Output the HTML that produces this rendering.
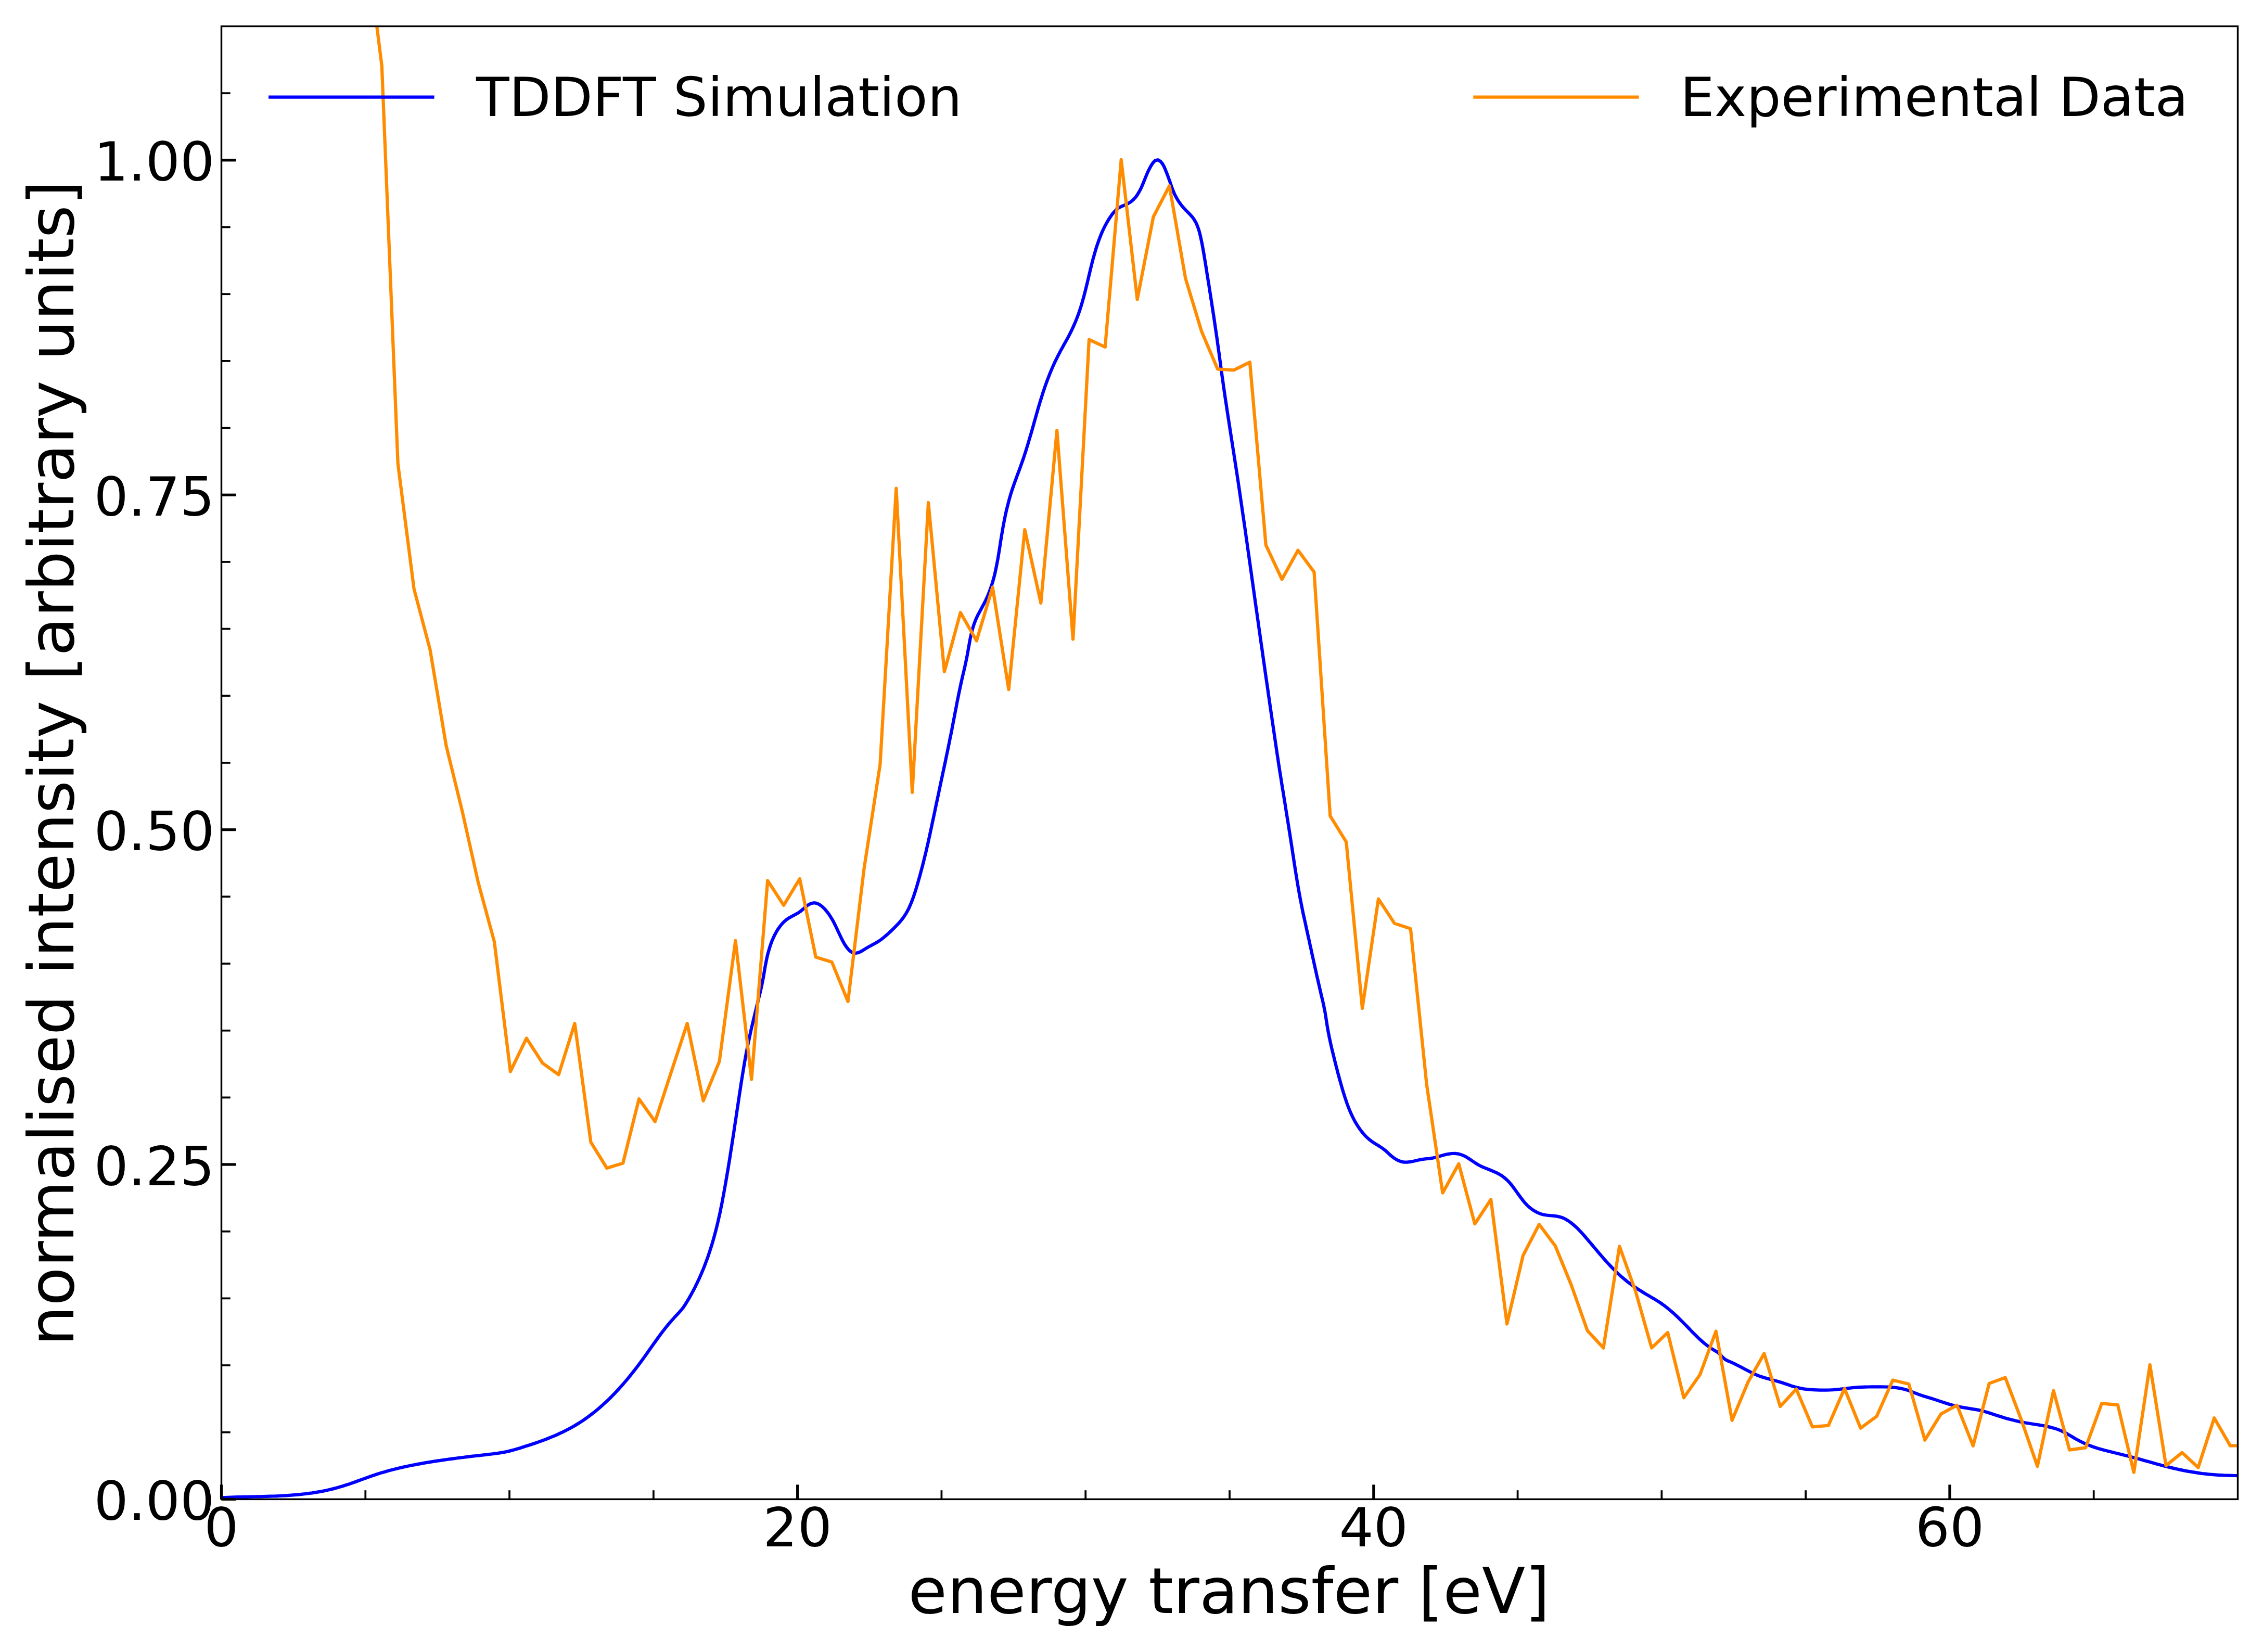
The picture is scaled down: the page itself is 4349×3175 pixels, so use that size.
<!DOCTYPE html>
<html lang="en"><head><meta charset="utf-8"><title>TDDFT Simulation vs Experimental Data</title>
<style>
html,body{margin:0;padding:0;background:#fff;}
body{width:4349px;height:3175px;overflow:hidden;}
svg{display:block;}
text{font-family:"DejaVu Sans","Liberation Sans",sans-serif;fill:#000;}
.tk{font-size:104.17px;}
.lb{font-size:121.5px;}
.lg{font-size:104.17px;}
</style></head><body>
<svg width="4349" height="3175" viewBox="0 0 4349 3175">
<rect x="0" y="0" width="4349" height="3175" fill="#ffffff"/>
<defs><clipPath id="ax"><rect x="425.5" y="50.5" width="3875.0" height="2830.9"/></clipPath></defs>
<g id="curves">
<path d="M425.5 2878.4 L431.6 2878.1 L437.8 2877.8 L444.0 2877.6 L450.2 2877.4 L456.4 2877.2 L462.6 2877.1 L468.8 2876.9 L475.0 2876.8 L481.3 2876.7 L487.5 2876.5 L493.8 2876.4 L500.0 2876.3 L506.3 2876.1 L512.6 2875.9 L518.8 2875.7 L525.1 2875.5 L531.3 2875.3 L537.6 2875.0 L543.8 2874.7 L550.1 2874.3 L556.3 2873.9 L562.5 2873.4 L568.7 2872.9 L574.9 2872.3 L581.1 2871.7 L587.2 2871.0 L593.4 2870.2 L599.5 2869.4 L605.6 2868.4 L611.7 2867.4 L617.8 2866.3 L623.9 2865.1 L629.9 2863.8 L636.0 2862.4 L642.0 2860.9 L648.0 2859.3 L654.0 2857.6 L660.0 2855.7 L666.0 2853.8 L672.0 2851.9 L677.9 2849.8 L683.8 2847.7 L689.7 2845.5 L695.7 2843.4 L701.6 2841.2 L707.5 2839.1 L713.4 2837.0 L719.3 2835.0 L725.2 2833.0 L731.1 2831.1 L737.0 2829.4 L742.9 2827.7 L748.9 2826.0 L754.9 2824.5 L760.8 2823.0 L766.8 2821.5 L772.9 2820.1 L778.9 2818.8 L785.0 2817.5 L791.1 2816.3 L797.2 2815.1 L803.3 2813.9 L809.5 2812.8 L815.7 2811.7 L821.8 2810.6 L828.0 2809.6 L834.2 2808.7 L840.4 2807.7 L846.6 2806.8 L852.8 2805.9 L859.0 2805.0 L865.2 2804.2 L871.4 2803.3 L877.6 2802.5 L883.8 2801.7 L890.0 2801.0 L896.2 2800.2 L902.3 2799.4 L908.5 2798.7 L914.6 2798.0 L920.7 2797.3 L926.8 2796.6 L932.9 2795.9 L939.0 2795.2 L945.1 2794.5 L951.2 2793.7 L957.3 2792.9 L963.3 2791.9 L969.4 2790.8 L975.5 2789.6 L981.5 2788.1 L987.5 2786.5 L993.6 2784.7 L999.6 2782.9 L1005.6 2781.0 L1011.7 2779.1 L1017.7 2777.2 L1023.6 2775.2 L1029.6 2773.2 L1035.5 2771.1 L1041.5 2769.0 L1047.3 2766.8 L1053.2 2764.5 L1059.0 2762.2 L1064.8 2759.8 L1070.5 2757.3 L1076.2 2754.7 L1081.8 2752.1 L1087.4 2749.3 L1092.9 2746.5 L1098.3 2743.5 L1103.7 2740.5 L1109.0 2737.3 L1114.3 2734.0 L1119.5 2730.6 L1124.6 2727.1 L1129.6 2723.5 L1134.6 2719.8 L1139.5 2716.0 L1144.4 2712.2 L1149.2 2708.2 L1153.9 2704.1 L1158.5 2700.0 L1163.1 2695.8 L1167.7 2691.5 L1172.2 2687.2 L1176.6 2682.7 L1181.0 2678.2 L1185.3 2673.7 L1189.5 2669.1 L1193.7 2664.4 L1197.8 2659.7 L1201.9 2655.0 L1206.0 2650.2 L1210.0 2645.3 L1213.9 2640.4 L1217.8 2635.5 L1221.6 2630.6 L1225.4 2625.6 L1229.2 2620.6 L1232.9 2615.6 L1236.6 2610.5 L1240.2 2605.5 L1243.8 2600.4 L1247.4 2595.3 L1250.9 2590.3 L1254.5 2585.2 L1258.1 2580.2 L1261.7 2575.1 L1265.3 2570.1 L1269.0 2565.2 L1272.7 2560.2 L1276.5 2555.3 L1280.3 2550.4 L1284.3 2545.6 L1288.3 2540.9 L1292.4 2536.2 L1296.6 2531.5 L1300.9 2526.9 L1305.2 2522.3 L1309.3 2517.6 L1313.2 2512.7 L1316.7 2507.5 L1320.0 2502.2 L1323.2 2496.8 L1326.3 2491.4 L1329.3 2486.0 L1332.3 2480.5 L1335.2 2475.0 L1337.9 2469.4 L1340.6 2463.8 L1343.3 2458.2 L1345.8 2452.5 L1348.3 2446.8 L1350.7 2441.1 L1353.0 2435.3 L1355.3 2429.5 L1357.4 2423.7 L1359.6 2417.9 L1361.6 2412.0 L1363.6 2406.1 L1365.5 2400.2 L1367.4 2394.3 L1369.2 2388.3 L1370.9 2382.3 L1372.6 2376.3 L1374.2 2370.3 L1375.8 2364.3 L1377.3 2358.2 L1378.8 2352.2 L1380.2 2346.1 L1381.6 2340.0 L1383.0 2333.9 L1384.3 2327.8 L1385.5 2321.7 L1386.8 2315.5 L1388.0 2309.4 L1389.1 2303.3 L1390.3 2297.1 L1391.4 2291.0 L1392.5 2284.8 L1393.6 2278.7 L1394.7 2272.5 L1395.7 2266.4 L1396.8 2260.2 L1397.8 2254.1 L1398.9 2247.9 L1399.9 2241.8 L1400.9 2235.6 L1401.9 2229.4 L1402.9 2223.3 L1403.8 2217.1 L1404.8 2211.0 L1405.8 2204.8 L1406.7 2198.7 L1407.7 2192.5 L1408.6 2186.4 L1409.6 2180.2 L1410.5 2174.1 L1411.4 2167.9 L1412.3 2161.8 L1413.3 2155.6 L1414.2 2149.5 L1415.1 2143.4 L1416.0 2137.2 L1416.9 2131.1 L1417.9 2124.9 L1418.8 2118.8 L1419.7 2112.6 L1420.6 2106.5 L1421.5 2100.4 L1422.5 2094.2 L1423.4 2088.1 L1424.3 2082.0 L1425.3 2075.8 L1426.3 2069.7 L1427.3 2063.6 L1428.3 2057.4 L1429.3 2051.3 L1430.3 2045.2 L1431.4 2039.0 L1432.5 2032.9 L1433.6 2026.8 L1434.8 2020.7 L1436.0 2014.5 L1437.2 2008.4 L1438.5 2002.3 L1439.8 1996.2 L1441.1 1990.1 L1442.4 1984.0 L1443.8 1977.8 L1445.2 1971.7 L1446.7 1965.6 L1448.1 1959.5 L1449.6 1953.4 L1451.0 1947.3 L1452.5 1941.2 L1454.0 1935.1 L1455.5 1929.0 L1457.0 1922.9 L1458.5 1916.8 L1460.0 1910.7 L1461.5 1904.6 L1462.9 1898.6 L1464.2 1892.5 L1465.4 1886.4 L1466.6 1880.3 L1467.7 1874.2 L1468.7 1868.2 L1469.7 1862.1 L1470.8 1856.0 L1472.0 1849.9 L1473.2 1843.9 L1474.5 1837.8 L1476.0 1831.8 L1477.7 1825.8 L1479.5 1819.8 L1481.5 1813.9 L1483.7 1808.1 L1486.2 1802.4 L1488.9 1796.7 L1491.9 1791.2 L1495.1 1785.9 L1498.7 1780.7 L1502.6 1775.9 L1506.9 1771.4 L1511.6 1767.4 L1516.7 1763.9 L1522.1 1760.9 L1527.7 1758.0 L1533.1 1755.0 L1538.3 1751.5 L1543.0 1747.5 L1547.7 1743.3 L1552.7 1739.4 L1558.3 1736.4 L1564.3 1735.2 L1570.3 1736.2 L1575.7 1739.0 L1580.7 1742.9 L1585.2 1747.4 L1589.3 1752.2 L1593.0 1757.1 L1596.4 1762.3 L1599.6 1767.6 L1602.6 1773.1 L1605.4 1778.7 L1608.1 1784.3 L1610.7 1790.0 L1613.4 1795.6 L1616.0 1801.2 L1618.8 1806.8 L1621.7 1812.3 L1625.0 1817.6 L1628.7 1822.7 L1633.0 1827.4 L1638.1 1830.9 L1643.9 1832.0 L1650.0 1830.9 L1655.8 1828.0 L1661.3 1824.6 L1666.5 1821.4 L1671.8 1818.4 L1677.2 1815.5 L1682.7 1812.5 L1688.2 1809.3 L1693.3 1805.7 L1698.2 1801.9 L1702.9 1797.9 L1707.5 1793.8 L1712.0 1789.6 L1716.6 1785.2 L1721.0 1780.8 L1725.4 1776.3 L1729.6 1771.6 L1733.5 1766.8 L1737.2 1761.8 L1740.6 1756.6 L1743.7 1751.2 L1746.6 1745.8 L1749.1 1740.1 L1751.5 1734.4 L1753.7 1728.6 L1755.8 1722.7 L1757.8 1716.8 L1759.7 1710.8 L1761.5 1704.8 L1763.3 1698.8 L1765.0 1692.8 L1766.7 1686.8 L1768.4 1680.8 L1770.0 1674.8 L1771.6 1668.7 L1773.2 1662.7 L1774.7 1656.7 L1776.2 1650.6 L1777.7 1644.5 L1779.2 1638.5 L1780.6 1632.4 L1782.0 1626.3 L1783.4 1620.3 L1784.7 1614.2 L1786.1 1608.1 L1787.4 1602.0 L1788.7 1595.9 L1790.0 1589.8 L1791.3 1583.7 L1792.6 1577.6 L1793.9 1571.5 L1795.2 1565.4 L1796.5 1559.3 L1797.7 1553.2 L1799.0 1547.1 L1800.3 1541.0 L1801.6 1535.0 L1802.9 1528.9 L1804.2 1522.8 L1805.4 1516.7 L1806.7 1510.6 L1808.0 1504.5 L1809.3 1498.4 L1810.6 1492.3 L1811.9 1486.2 L1813.2 1480.1 L1814.5 1474.0 L1815.8 1468.0 L1817.1 1461.9 L1818.3 1455.8 L1819.6 1449.7 L1820.9 1443.6 L1822.1 1437.5 L1823.4 1431.4 L1824.6 1425.3 L1825.8 1419.2 L1827.1 1413.1 L1828.3 1407.1 L1829.5 1401.0 L1830.6 1394.9 L1831.8 1388.8 L1833.0 1382.7 L1834.2 1376.6 L1835.3 1370.5 L1836.5 1364.4 L1837.7 1358.3 L1838.8 1352.2 L1840.0 1346.1 L1841.3 1340.0 L1842.5 1333.8 L1843.8 1327.7 L1845.1 1321.6 L1846.4 1315.5 L1847.7 1309.4 L1849.1 1303.3 L1850.5 1297.1 L1852.0 1291.0 L1853.4 1284.9 L1854.8 1278.7 L1856.1 1272.6 L1857.4 1266.5 L1858.6 1260.3 L1859.7 1254.2 L1860.8 1248.0 L1861.9 1241.9 L1863.0 1235.8 L1864.1 1229.7 L1865.3 1223.7 L1866.7 1217.7 L1868.2 1211.7 L1869.9 1205.8 L1871.8 1199.9 L1873.9 1194.1 L1876.3 1188.3 L1879.0 1182.6 L1882.0 1177.0 L1885.0 1171.4 L1888.0 1165.8 L1891.0 1160.3 L1893.8 1154.7 L1896.4 1149.1 L1898.9 1143.4 L1901.2 1137.7 L1903.3 1131.9 L1905.3 1126.0 L1907.2 1120.1 L1908.9 1114.2 L1910.5 1108.2 L1912.0 1102.2 L1913.3 1096.1 L1914.6 1090.0 L1915.8 1083.9 L1917.0 1077.7 L1918.1 1071.5 L1919.1 1065.4 L1920.1 1059.2 L1921.1 1053.0 L1922.1 1046.8 L1923.0 1040.6 L1924.0 1034.4 L1925.0 1028.2 L1926.1 1022.1 L1927.1 1015.9 L1928.2 1009.8 L1929.4 1003.7 L1930.6 997.6 L1931.8 991.5 L1933.1 985.5 L1934.5 979.4 L1936.0 973.4 L1937.5 967.4 L1939.1 961.4 L1940.8 955.4 L1942.5 949.5 L1944.4 943.5 L1946.4 937.6 L1948.4 931.7 L1950.5 925.8 L1952.7 919.9 L1954.8 914.0 L1957.0 908.1 L1959.2 902.3 L1961.3 896.4 L1963.4 890.5 L1965.5 884.6 L1967.5 878.8 L1969.4 872.9 L1971.3 867.0 L1973.1 861.1 L1975.0 855.1 L1976.7 849.2 L1978.5 843.2 L1980.2 837.3 L1982.0 831.3 L1983.7 825.3 L1985.4 819.3 L1987.1 813.2 L1988.8 807.2 L1990.5 801.2 L1992.2 795.2 L1993.9 789.2 L1995.6 783.2 L1997.4 777.2 L1999.2 771.2 L2001.1 765.2 L2002.9 759.3 L2004.8 753.3 L2006.8 747.4 L2008.8 741.5 L2010.9 735.7 L2013.0 729.9 L2015.3 724.1 L2017.5 718.3 L2019.9 712.6 L2022.3 706.9 L2024.8 701.3 L2027.4 695.6 L2030.1 690.1 L2032.9 684.5 L2035.8 678.9 L2038.7 673.4 L2041.7 667.9 L2044.8 662.3 L2047.9 656.8 L2051.0 651.3 L2054.0 645.7 L2056.8 640.1 L2059.6 634.5 L2062.2 628.9 L2064.7 623.3 L2067.1 617.6 L2069.4 611.9 L2071.6 606.1 L2073.7 600.3 L2075.6 594.5 L2077.5 588.6 L2079.3 582.6 L2081.0 576.7 L2082.7 570.7 L2084.2 564.7 L2085.8 558.6 L2087.3 552.5 L2088.8 546.5 L2090.2 540.4 L2091.7 534.3 L2093.1 528.2 L2094.6 522.1 L2096.0 516.0 L2097.5 509.9 L2099.1 503.8 L2100.6 497.8 L2102.3 491.8 L2104.0 485.8 L2105.7 479.8 L2107.6 473.8 L2109.6 467.9 L2111.6 462.1 L2113.8 456.3 L2116.1 450.5 L2118.5 444.8 L2121.1 439.2 L2123.9 433.6 L2126.9 428.2 L2130.1 422.8 L2133.5 417.5 L2137.1 412.3 L2141.1 407.3 L2145.4 402.8 L2150.3 399.2 L2155.7 396.5 L2161.4 394.2 L2167.1 391.6 L2172.5 388.3 L2177.4 384.3 L2181.7 379.8 L2185.4 374.8 L2188.7 369.5 L2191.7 364.0 L2194.4 358.3 L2196.8 352.5 L2199.1 346.8 L2201.4 341.1 L2203.7 335.5 L2206.2 329.8 L2209.0 324.2 L2212.1 318.5 L2215.7 313.0 L2220.1 308.4 L2225.3 307.2 L2230.3 310.2 L2234.2 315.0 L2237.3 320.7 L2239.9 326.8 L2242.2 332.6 L2244.4 338.3 L2246.4 343.9 L2248.5 349.8 L2250.5 355.7 L2252.6 361.7 L2254.9 367.6 L2257.4 373.4 L2260.2 378.9 L2263.3 384.3 L2266.7 389.4 L2270.4 394.4 L2274.3 399.1 L2278.6 403.7 L2283.0 408.1 L2287.4 412.6 L2291.6 417.3 L2295.1 422.3 L2298.2 427.6 L2300.7 433.2 L2302.9 439.0 L2304.7 444.9 L2306.3 451.0 L2307.7 457.2 L2309.0 463.4 L2310.3 469.5 L2311.4 475.7 L2312.5 481.9 L2313.6 488.0 L2314.6 494.2 L2315.6 500.3 L2316.6 506.5 L2317.6 512.6 L2318.6 518.8 L2319.5 524.9 L2320.5 531.1 L2321.5 537.2 L2322.5 543.4 L2323.5 549.5 L2324.4 555.7 L2325.4 561.9 L2326.4 568.0 L2327.3 574.2 L2328.3 580.3 L2329.2 586.5 L2330.2 592.6 L2331.1 598.8 L2332.1 604.9 L2333.0 611.1 L2333.9 617.3 L2334.8 623.4 L2335.7 629.6 L2336.6 635.7 L2337.5 641.9 L2338.4 648.0 L2339.3 654.2 L2340.1 660.4 L2341.0 666.5 L2341.8 672.7 L2342.7 678.8 L2343.5 685.0 L2344.3 691.2 L2345.2 697.3 L2346.0 703.5 L2346.9 709.7 L2347.7 715.8 L2348.5 722.0 L2349.4 728.1 L2350.3 734.3 L2351.1 740.5 L2352.0 746.6 L2352.9 752.8 L2353.8 759.0 L2354.7 765.1 L2355.6 771.3 L2356.6 777.5 L2357.5 783.6 L2358.4 789.8 L2359.4 796.0 L2360.3 802.1 L2361.3 808.3 L2362.2 814.5 L2363.2 820.6 L2364.1 826.8 L2365.1 833.0 L2366.0 839.1 L2367.0 845.3 L2368.0 851.5 L2368.9 857.6 L2369.9 863.8 L2370.9 870.0 L2371.8 876.1 L2372.8 882.3 L2373.7 888.5 L2374.7 894.6 L2375.6 900.8 L2376.6 907.0 L2377.5 913.1 L2378.4 919.3 L2379.4 925.5 L2380.3 931.7 L2381.2 937.8 L2382.1 944.0 L2383.0 950.2 L2383.9 956.3 L2384.8 962.5 L2385.7 968.7 L2386.6 974.8 L2387.5 981.0 L2388.4 987.2 L2389.3 993.4 L2390.2 999.5 L2391.1 1005.7 L2392.0 1011.9 L2392.9 1018.0 L2393.8 1024.2 L2394.6 1030.4 L2395.5 1036.6 L2396.4 1042.7 L2397.3 1048.9 L2398.1 1055.1 L2399.0 1061.2 L2399.9 1067.4 L2400.7 1073.6 L2401.6 1079.7 L2402.5 1085.9 L2403.3 1092.1 L2404.2 1098.3 L2405.1 1104.4 L2405.9 1110.6 L2406.8 1116.8 L2407.7 1122.9 L2408.5 1129.1 L2409.4 1135.3 L2410.3 1141.5 L2411.1 1147.6 L2412.0 1153.8 L2412.8 1160.0 L2413.7 1166.1 L2414.6 1172.3 L2415.5 1178.5 L2416.3 1184.6 L2417.2 1190.8 L2418.1 1197.0 L2418.9 1203.2 L2419.8 1209.3 L2420.7 1215.5 L2421.6 1221.7 L2422.4 1227.8 L2423.3 1234.0 L2424.2 1240.2 L2425.1 1246.3 L2426.0 1252.5 L2426.8 1258.7 L2427.7 1264.8 L2428.6 1271.0 L2429.5 1277.2 L2430.4 1283.3 L2431.2 1289.5 L2432.1 1295.7 L2433.0 1301.8 L2433.9 1308.0 L2434.8 1314.2 L2435.7 1320.3 L2436.6 1326.5 L2437.4 1332.7 L2438.3 1338.8 L2439.2 1345.0 L2440.1 1351.2 L2441.0 1357.3 L2441.9 1363.5 L2442.8 1369.7 L2443.7 1375.8 L2444.6 1382.0 L2445.5 1388.1 L2446.4 1394.3 L2447.3 1400.5 L2448.2 1406.6 L2449.1 1412.8 L2450.0 1419.0 L2450.9 1425.1 L2451.8 1431.3 L2452.7 1437.4 L2453.6 1443.6 L2454.5 1449.8 L2455.5 1455.9 L2456.4 1462.1 L2457.3 1468.2 L2458.3 1474.4 L2459.2 1480.6 L2460.2 1486.7 L2461.2 1492.9 L2462.2 1499.0 L2463.1 1505.2 L2464.1 1511.3 L2465.1 1517.5 L2466.1 1523.6 L2467.1 1529.8 L2468.1 1536.0 L2469.1 1542.1 L2470.1 1548.3 L2471.0 1554.4 L2472.0 1560.6 L2473.0 1566.7 L2474.0 1572.9 L2475.0 1579.0 L2476.0 1585.2 L2476.9 1591.3 L2477.9 1597.5 L2478.9 1603.6 L2479.8 1609.7 L2480.8 1615.9 L2481.7 1622.0 L2482.7 1628.2 L2483.6 1634.3 L2484.5 1640.5 L2485.5 1646.6 L2486.4 1652.7 L2487.3 1658.9 L2488.3 1665.0 L2489.2 1671.2 L2490.2 1677.3 L2491.2 1683.4 L2492.2 1689.6 L2493.2 1695.7 L2494.2 1701.8 L2495.3 1708.0 L2496.4 1714.1 L2497.5 1720.2 L2498.6 1726.4 L2499.8 1732.5 L2501.0 1738.6 L2502.2 1744.7 L2503.4 1750.9 L2504.7 1757.0 L2506.1 1763.1 L2507.4 1769.2 L2508.8 1775.4 L2510.1 1781.5 L2511.4 1787.6 L2512.8 1793.7 L2514.1 1799.8 L2515.5 1805.9 L2516.8 1812.1 L2518.1 1818.2 L2519.5 1824.3 L2520.8 1830.4 L2522.1 1836.5 L2523.5 1842.6 L2524.8 1848.7 L2526.2 1854.8 L2527.5 1860.9 L2528.9 1867.0 L2530.2 1873.1 L2531.6 1879.2 L2533.0 1885.3 L2534.4 1891.4 L2535.8 1897.5 L2537.2 1903.6 L2538.6 1909.7 L2540.0 1915.8 L2541.5 1921.8 L2542.9 1927.9 L2544.2 1934.0 L2545.4 1940.1 L2546.6 1946.2 L2547.6 1952.3 L2548.5 1958.3 L2549.5 1964.4 L2550.4 1970.5 L2551.4 1976.6 L2552.5 1982.6 L2553.7 1988.7 L2554.9 1994.8 L2556.2 2000.8 L2557.5 2006.9 L2558.9 2012.9 L2560.3 2019.0 L2561.8 2025.1 L2563.3 2031.1 L2564.8 2037.2 L2566.3 2043.2 L2567.8 2049.3 L2569.4 2055.3 L2570.9 2061.4 L2572.6 2067.4 L2574.2 2073.4 L2575.9 2079.5 L2577.6 2085.5 L2579.3 2091.5 L2581.1 2097.6 L2583.0 2103.6 L2584.9 2109.6 L2586.9 2115.6 L2588.9 2121.5 L2591.1 2127.3 L2593.4 2133.2 L2595.9 2138.9 L2598.5 2144.6 L2601.2 2150.1 L2604.1 2155.6 L2607.3 2160.9 L2610.6 2166.1 L2614.1 2171.2 L2617.9 2176.1 L2621.9 2180.8 L2626.2 2185.3 L2630.8 2189.5 L2635.7 2193.3 L2640.9 2196.8 L2646.3 2200.2 L2651.7 2203.5 L2656.9 2207.0 L2661.8 2210.7 L2666.4 2214.8 L2670.8 2219.0 L2675.6 2223.1 L2680.8 2226.9 L2686.3 2230.0 L2692.2 2232.4 L2698.2 2233.6 L2704.3 2233.7 L2710.5 2232.9 L2716.6 2231.7 L2722.8 2230.2 L2728.9 2228.9 L2735.0 2227.8 L2741.0 2227.2 L2747.1 2226.7 L2753.2 2225.7 L2759.3 2224.3 L2765.4 2222.6 L2771.6 2220.8 L2777.7 2219.1 L2783.9 2217.8 L2790.1 2217.0 L2796.2 2216.9 L2802.2 2217.6 L2808.1 2219.2 L2813.9 2221.6 L2819.4 2224.6 L2824.7 2228.0 L2829.9 2231.5 L2835.1 2235.0 L2840.5 2238.4 L2846.0 2241.3 L2851.7 2243.9 L2857.5 2246.2 L2863.3 2248.5 L2869.0 2250.8 L2874.7 2253.3 L2880.2 2256.1 L2885.5 2259.3 L2890.5 2263.0 L2895.2 2267.0 L2899.6 2271.3 L2903.7 2276.0 L2907.5 2280.8 L2911.2 2285.9 L2914.9 2291.0 L2918.5 2296.1 L2922.2 2301.2 L2926.0 2306.2 L2930.0 2311.1 L2934.2 2315.7 L2938.8 2320.0 L2943.7 2323.9 L2948.9 2327.3 L2954.3 2330.3 L2960.0 2332.7 L2966.0 2334.4 L2972.1 2335.5 L2978.4 2336.2 L2984.7 2336.7 L2990.9 2337.4 L2997.0 2338.6 L3002.9 2340.4 L3008.4 2343.0 L3013.7 2346.2 L3018.8 2349.8 L3023.6 2353.7 L3028.3 2357.8 L3032.8 2362.1 L3037.1 2366.6 L3041.3 2371.2 L3045.5 2375.9 L3049.6 2380.7 L3053.6 2385.5 L3057.7 2390.2 L3061.7 2395.0 L3065.7 2399.8 L3069.7 2404.5 L3073.7 2409.3 L3077.8 2414.0 L3081.9 2418.7 L3086.0 2423.4 L3090.2 2428.0 L3094.4 2432.5 L3098.7 2437.0 L3103.0 2441.4 L3107.4 2445.8 L3112.0 2450.0 L3116.6 2454.2 L3121.3 2458.2 L3126.1 2462.2 L3131.1 2466.0 L3136.2 2469.7 L3141.3 2473.3 L3146.6 2476.8 L3151.9 2480.2 L3157.2 2483.5 L3162.6 2486.8 L3167.9 2489.9 L3173.3 2493.1 L3178.6 2496.2 L3183.8 2499.4 L3189.0 2502.7 L3194.1 2506.2 L3199.1 2509.8 L3204.0 2513.6 L3208.8 2517.6 L3213.6 2521.6 L3218.2 2525.8 L3222.8 2530.1 L3227.3 2534.5 L3231.8 2538.9 L3236.2 2543.4 L3240.6 2547.8 L3245.0 2552.3 L3249.3 2556.8 L3253.6 2561.2 L3258.0 2565.6 L3262.4 2569.9 L3266.8 2574.2 L3271.5 2578.3 L3276.2 2582.4 L3281.2 2586.3 L3286.4 2590.0 L3291.7 2593.5 L3296.9 2596.5 L3301.9 2599.7 L3306.5 2604.0 L3310.9 2608.9 L3315.6 2612.9 L3320.9 2615.6 L3326.5 2617.9 L3332.3 2620.5 L3338.0 2623.5 L3343.6 2626.3 L3348.9 2629.1 L3354.3 2631.9 L3359.9 2634.8 L3365.6 2637.7 L3371.3 2640.5 L3377.2 2643.1 L3383.0 2645.3 L3388.9 2647.3 L3394.8 2649.0 L3400.6 2650.6 L3406.6 2652.2 L3412.5 2653.7 L3418.4 2655.4 L3424.4 2657.3 L3430.3 2659.3 L3436.3 2661.3 L3442.3 2663.4 L3448.4 2665.2 L3454.4 2666.9 L3460.5 2668.2 L3466.6 2669.3 L3472.8 2670.1 L3478.9 2670.7 L3485.1 2671.1 L3491.3 2671.4 L3497.5 2671.6 L3503.7 2671.7 L3509.9 2671.7 L3516.1 2671.5 L3522.3 2671.2 L3528.5 2670.7 L3534.8 2670.0 L3541.0 2669.3 L3547.2 2668.6 L3553.5 2667.9 L3559.7 2667.2 L3565.9 2666.7 L3572.1 2666.2 L3578.4 2665.9 L3584.6 2665.7 L3590.8 2665.5 L3597.0 2665.4 L3603.3 2665.4 L3609.5 2665.3 L3615.7 2665.3 L3621.9 2665.5 L3628.1 2665.7 L3634.2 2666.1 L3640.4 2666.6 L3646.5 2667.4 L3652.6 2668.4 L3658.6 2669.7 L3664.7 2671.4 L3670.7 2673.5 L3676.7 2675.8 L3682.6 2678.1 L3688.5 2680.4 L3694.5 2682.4 L3700.4 2684.2 L3706.2 2685.9 L3712.1 2687.7 L3718.0 2689.6 L3723.9 2691.6 L3729.8 2693.6 L3735.7 2695.5 L3741.7 2697.5 L3747.6 2699.3 L3753.6 2701.0 L3759.6 2702.6 L3765.6 2703.8 L3771.6 2704.9 L3777.7 2705.9 L3783.8 2706.8 L3789.9 2707.8 L3796.1 2708.8 L3802.2 2709.9 L3808.3 2711.3 L3814.4 2712.9 L3820.5 2714.7 L3826.6 2716.7 L3832.6 2718.7 L3838.6 2720.7 L3844.6 2722.6 L3850.6 2724.5 L3856.5 2726.2 L3862.4 2727.8 L3868.4 2729.3 L3874.3 2730.8 L3880.3 2732.1 L3886.3 2733.3 L3892.4 2734.5 L3898.5 2735.5 L3904.7 2736.5 L3910.9 2737.5 L3917.2 2738.4 L3923.4 2739.5 L3929.6 2740.6 L3935.7 2741.9 L3941.8 2743.4 L3947.8 2745.0 L3953.7 2746.9 L3959.5 2749.1 L3965.1 2751.7 L3970.6 2754.5 L3975.9 2757.6 L3981.3 2760.8 L3986.6 2764.0 L3992.1 2767.1 L3997.6 2770.0 L4003.3 2772.8 L4009.0 2775.3 L4014.8 2777.7 L4020.6 2780.0 L4026.5 2782.0 L4032.4 2783.9 L4038.4 2785.6 L4044.4 2787.3 L4050.5 2788.8 L4056.5 2790.3 L4062.5 2791.8 L4068.6 2793.2 L4074.6 2794.7 L4080.6 2796.2 L4086.6 2797.8 L4092.7 2799.3 L4098.7 2800.9 L4104.7 2802.5 L4110.7 2804.1 L4116.7 2805.7 L4122.7 2807.4 L4128.7 2809.1 L4134.7 2810.8 L4140.8 2812.5 L4146.8 2814.2 L4152.8 2815.8 L4158.9 2817.4 L4164.9 2818.9 L4171.0 2820.4 L4177.0 2821.9 L4183.1 2823.3 L4189.2 2824.6 L4195.3 2825.9 L4201.4 2827.1 L4207.5 2828.2 L4213.7 2829.2 L4219.8 2830.2 L4226.0 2831.1 L4232.1 2832.0 L4238.3 2832.7 L4244.5 2833.4 L4250.6 2833.9 L4256.8 2834.4 L4263.0 2834.8 L4269.3 2835.2 L4275.5 2835.5 L4281.7 2835.7 L4288.0 2835.9 L4294.3 2836.0 L4300.5 2836.0" fill="none" stroke="#0000ff" stroke-width="6.25" stroke-linejoin="round" stroke-linecap="butt" clip-path="url(#ax)"/>
<path d="M702.9 -119.6 L733.8 126.9 L764.7 891.2 L795.6 1131.7 L826.5 1248.5 L857.4 1432.7 L888.2 1558.6 L919.1 1696.4 L950.0 1810.0 L980.9 2059.3 L1011.8 1995.4 L1042.7 2043.3 L1073.6 2065.4 L1104.5 1967.0 L1135.4 2195.1 L1166.3 2245.0 L1197.2 2235.5 L1228.0 2112.0 L1258.9 2155.6 L1289.8 2060.7 L1320.7 1967.0 L1351.6 2115.6 L1382.5 2039.9 L1413.4 1807.8 L1444.3 2074.3 L1475.2 1692.4 L1506.1 1739.9 L1536.9 1689.0 L1567.8 1839.5 L1598.7 1849.1 L1629.6 1924.9 L1660.5 1669.8 L1691.4 1469.1 L1722.3 938.7 L1753.2 1522.9 L1784.1 966.0 L1814.9 1291.0 L1845.8 1177.3 L1876.7 1231.5 L1907.6 1128.6 L1938.5 1325.1 L1969.4 1018.0 L2000.3 1159.0 L2031.2 827.3 L2062.1 1228.4 L2093.0 652.6 L2123.8 667.0 L2154.7 306.9 L2185.6 575.4 L2216.5 416.8 L2247.4 357.3 L2278.3 535.2 L2309.2 637.0 L2340.1 709.4 L2371.0 711.4 L2401.9 696.1 L2432.8 1047.7 L2463.6 1113.4 L2494.5 1057.5 L2525.4 1099.4 L2556.3 1568.1 L2587.2 1618.1 L2618.1 1937.9 L2649.0 1727.6 L2679.9 1774.6 L2710.8 1784.9 L2741.7 2084.0 L2772.5 2292.7 L2803.4 2236.8 L2834.3 2352.3 L2865.2 2305.3 L2896.1 2544.5 L2927.0 2413.0 L2957.9 2353.1 L2988.8 2394.3 L3019.7 2469.8 L3050.6 2557.3 L3081.4 2590.6 L3112.3 2395.3 L3143.2 2481.7 L3174.1 2590.5 L3205.0 2561.1 L3235.9 2686.3 L3266.8 2642.3 L3297.7 2558.5 L3328.6 2729.8 L3359.5 2656.0 L3390.3 2601.4 L3421.2 2703.1 L3452.1 2669.7 L3483.0 2742.3 L3513.9 2739.6 L3544.8 2668.7 L3575.7 2744.7 L3606.6 2721.9 L3637.5 2652.5 L3668.4 2660.0 L3699.2 2767.7 L3730.1 2717.6 L3761.0 2700.8 L3791.9 2778.8 L3822.8 2658.9 L3853.7 2647.6 L3884.6 2728.8 L3915.5 2818.1 L3946.4 2672.7 L3977.2 2786.7 L4008.1 2782.4 L4039.0 2697.4 L4069.9 2700.1 L4100.8 2829.7 L4131.7 2623.0 L4162.6 2816.8 L4193.5 2791.7 L4224.4 2820.5 L4255.3 2725.2 L4286.1 2778.6 L4317.0 2778.3" fill="none" stroke="#ff8c00" stroke-width="6.25" stroke-linejoin="round" stroke-linecap="butt" clip-path="url(#ax)"/>
</g>
<g id="ticks" stroke="#000" stroke-linecap="butt">
<line x1="425.50" y1="2881.40" x2="425.50" y2="2853.40" stroke-width="5.2"/>
<line x1="702.29" y1="2881.40" x2="702.29" y2="2864.20" stroke-width="3.75"/>
<line x1="979.07" y1="2881.40" x2="979.07" y2="2864.20" stroke-width="3.75"/>
<line x1="1255.86" y1="2881.40" x2="1255.86" y2="2864.20" stroke-width="3.75"/>
<line x1="1532.64" y1="2881.40" x2="1532.64" y2="2853.40" stroke-width="5.2"/>
<line x1="1809.43" y1="2881.40" x2="1809.43" y2="2864.20" stroke-width="3.75"/>
<line x1="2086.21" y1="2881.40" x2="2086.21" y2="2864.20" stroke-width="3.75"/>
<line x1="2363.00" y1="2881.40" x2="2363.00" y2="2864.20" stroke-width="3.75"/>
<line x1="2639.79" y1="2881.40" x2="2639.79" y2="2853.40" stroke-width="5.2"/>
<line x1="2916.57" y1="2881.40" x2="2916.57" y2="2864.20" stroke-width="3.75"/>
<line x1="3193.36" y1="2881.40" x2="3193.36" y2="2864.20" stroke-width="3.75"/>
<line x1="3470.14" y1="2881.40" x2="3470.14" y2="2864.20" stroke-width="3.75"/>
<line x1="3746.93" y1="2881.40" x2="3746.93" y2="2853.40" stroke-width="5.2"/>
<line x1="4023.71" y1="2881.40" x2="4023.71" y2="2864.20" stroke-width="3.75"/>
<line x1="425.50" y1="2881.40" x2="453.50" y2="2881.40" stroke-width="5.2"/>
<line x1="425.50" y1="2752.72" x2="442.70" y2="2752.72" stroke-width="3.75"/>
<line x1="425.50" y1="2624.05" x2="442.70" y2="2624.05" stroke-width="3.75"/>
<line x1="425.50" y1="2495.37" x2="442.70" y2="2495.37" stroke-width="3.75"/>
<line x1="425.50" y1="2366.69" x2="442.70" y2="2366.69" stroke-width="3.75"/>
<line x1="425.50" y1="2238.01" x2="453.50" y2="2238.01" stroke-width="5.2"/>
<line x1="425.50" y1="2109.34" x2="442.70" y2="2109.34" stroke-width="3.75"/>
<line x1="425.50" y1="1980.66" x2="442.70" y2="1980.66" stroke-width="3.75"/>
<line x1="425.50" y1="1851.98" x2="442.70" y2="1851.98" stroke-width="3.75"/>
<line x1="425.50" y1="1723.30" x2="442.70" y2="1723.30" stroke-width="3.75"/>
<line x1="425.50" y1="1594.63" x2="453.50" y2="1594.63" stroke-width="5.2"/>
<line x1="425.50" y1="1465.95" x2="442.70" y2="1465.95" stroke-width="3.75"/>
<line x1="425.50" y1="1337.27" x2="442.70" y2="1337.27" stroke-width="3.75"/>
<line x1="425.50" y1="1208.60" x2="442.70" y2="1208.60" stroke-width="3.75"/>
<line x1="425.50" y1="1079.92" x2="442.70" y2="1079.92" stroke-width="3.75"/>
<line x1="425.50" y1="951.24" x2="453.50" y2="951.24" stroke-width="5.2"/>
<line x1="425.50" y1="822.56" x2="442.70" y2="822.56" stroke-width="3.75"/>
<line x1="425.50" y1="693.89" x2="442.70" y2="693.89" stroke-width="3.75"/>
<line x1="425.50" y1="565.21" x2="442.70" y2="565.21" stroke-width="3.75"/>
<line x1="425.50" y1="436.53" x2="442.70" y2="436.53" stroke-width="3.75"/>
<line x1="425.50" y1="307.85" x2="453.50" y2="307.85" stroke-width="5.2"/>
<line x1="425.50" y1="179.18" x2="442.70" y2="179.18" stroke-width="3.75"/>
</g>
<rect x="425.5" y="50.5" width="3875.0" height="2830.9" fill="none" stroke="#000" stroke-width="3.4" stroke-linejoin="miter"/>
<g id="ticklabels">
<text class="tk" x="425.50" y="2972" text-anchor="middle">0</text>
<text class="tk" x="1532.64" y="2972" text-anchor="middle">20</text>
<text class="tk" x="2639.79" y="2972" text-anchor="middle">40</text>
<text class="tk" x="3746.93" y="2972" text-anchor="middle">60</text>
<text class="tk" x="412.3" y="2920.90" text-anchor="end">0.00</text>
<text class="tk" x="412.3" y="2277.51" text-anchor="end">0.25</text>
<text class="tk" x="412.3" y="1634.13" text-anchor="end">0.50</text>
<text class="tk" x="412.3" y="990.74" text-anchor="end">0.75</text>
<text class="tk" x="412.3" y="347.35" text-anchor="end">1.00</text>
</g>
<text class="lb" x="2361.9" y="3100.2" text-anchor="middle">energy transfer [eV]</text>
<text class="lb" transform="translate(140.9 1466.7) rotate(-90)" text-anchor="middle">normalised intensity [arbitrary units]</text>
<g id="legend">
<line x1="516.1" y1="186.5" x2="834.6" y2="186.5" stroke="#0000ff" stroke-width="6.25"/>
<text class="lg" x="915" y="223.3">TDDFT Simulation</text>
<line x1="2831.3" y1="186.5" x2="3149.7" y2="186.5" stroke="#ff8c00" stroke-width="6.25"/>
<text class="lg" x="3229" y="223.3">Experimental Data</text>
</g>
</svg>
</body></html>
